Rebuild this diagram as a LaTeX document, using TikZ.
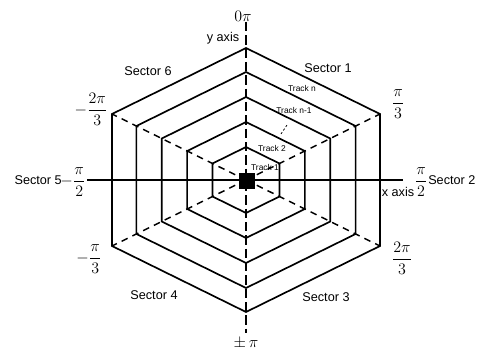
\documentclass[tikz,border=0pt]{standalone}
\usepackage{amsmath}
\usepackage{fontspec}
\newfontfamily\arial{Liberation Sans}
\usetikzlibrary{calc}
\newcommand{\hexagono}[3]{%
  % #1 = centro, #2 = raio vertical, #3 = meia largura
  \draw[hexlinha]
    ($(#1)+(0,-#2)$) --
    ++(#3,0.5*#2) --
    ++(0,#2) --
    ++(-#3,0.5*#2) --
    ++(-#3,-0.5*#2) --
    ++(0,-#2) --
    cycle;
}
\tikzset{
  rotulo/.style={font=\arial\fontsize{9.5}{11}\selectfont, inner sep=0pt},
  trilha/.style={font=\arial\fontsize{6.3}{7}\selectfont, inner sep=0pt},
  fracao/.style={font=\fontsize{12}{14}\selectfont, inner sep=0pt},
  hexlinha/.style={line width=1.25pt, line join=miter},
  eixo/.style={line width=1.6pt, dash pattern=on 7pt off 3pt},
  diagonal/.style={line width=1.1pt, dash pattern=on 5pt off 4pt},
}

\begin{document}
\begin{tikzpicture}[x=0.75pt, y=-0.75pt]
    \useasboundingbox (0,0) rectangle (482,353);
    \coordinate (O) at (246,180);

    % trilhas
    \foreach \r in {33,58,83,108,132} {
      \hexagono{O}{\r}{1.015*\r}
    }

    % cantos do hexágono externo
    \coordinate (c1) at ($(O)+(134,-66)$);
    \coordinate (c2) at ($(O)+(134,66)$);
    \coordinate (c3) at ($(O)+(-134,66)$);
    \coordinate (c4) at ($(O)+(-134,-66)$);
    \foreach \c in {c1,c2,c3,c4}
      \draw[diagonal] (O) -- (\c);

    % eixos
    \coordinate (ytopo) at (246,22);
    \coordinate (ybase) at (246,333);
    \coordinate (xesq) at (87,180);
    \coordinate (xdir) at (403,180);
    \draw[eixo] (ytopo) -- (ybase);
    \draw[line width=1.5pt] (xesq) -- (xdir);

    \node[fill=black, minimum size=12pt, inner sep=0pt] (bloco) at (247,181) {};
    \draw[line width=0.6pt, dash pattern=on 1.6pt off 1.6pt] (281,134) -- (287,125);

    % ângulos
    \node[fracao] (zero) at (243,16) {$0\pi$};
    \node[fracao] (pi3) at (398,104) {$\dfrac{\pi}{3}$};
    \node[fracao] (m2pi3) at (91,109) {$-\dfrac{2\pi}{3}$};
    \node[fracao] (mpi2) at (73,182) {$-\dfrac{\pi}{2}$};
    \node[fracao] (pi2) at (421,182) {$\dfrac{\pi}{2}$};
    \node[fracao] (mpi3) at (89,259) {$-\dfrac{\pi}{3}$};
    \node[fracao] (dpi3) at (402,258) {$\dfrac{2\pi}{3}$};
    \node[fracao] (pmpi) at (246,343) {$\pm\,\pi$};

    % setores
    \node[rotulo] (yeixo) at (223,38) {y axis};
    \node[rotulo] (xeixo) at (398,192) {x axis};
    \node[rotulo] (s1) at (328,68) {Sector 1};
    \node[rotulo, anchor=west] (s2) at (428,180) {Sector 2};
    \node[rotulo] (s3) at (326,297) {Sector 3};
    \node[rotulo] (s4) at (154,295) {Sector 4};
    \node[rotulo, anchor=east] (s5) at (62,180) {Sector 5};
    \node[rotulo] (s6) at (148,71) {Sector 6};

    \node[trilha] (tn) at (302,88) {Track n};
    \node[trilha] (tn1) at (294,110) {Track n-1};
    \node[trilha] (t2) at (272,148) {Track 2};
    \node[trilha] (t1) at (265,167) {Track 1};

\end{tikzpicture}
\end{document}
